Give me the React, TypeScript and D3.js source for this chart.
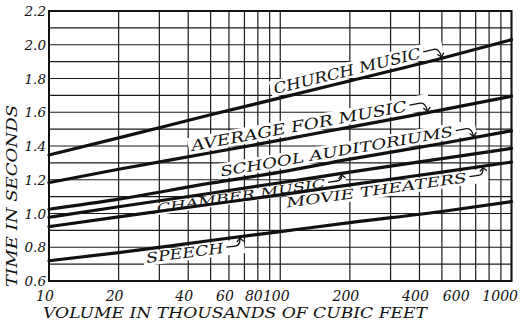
import React from "react";
import * as d3 from "d3";

// ---------- data ----------
const volumes = [10, 20, 50, 100, 200, 500, 1000]; // thousands of cubic feet
const churchMusic = [1.347, 1.448, 1.585, 1.685, 1.786, 1.92, 2.03];
const averageForMusic = [1.183, 1.262, 1.36, 1.435, 1.512, 1.614, 1.695];
const schoolAuditoriums = [1.025, 1.085, 1.18, 1.245, 1.322, 1.415, 1.49];
const chamberMusic = [0.978, 1.04, 1.12, 1.182, 1.245, 1.325, 1.386];
const movieTheaters = [0.922, 0.98, 1.055, 1.11, 1.17, 1.245, 1.305];
const speech = [0.72, 0.768, 0.84, 0.893, 0.946, 1.012, 1.07];

const seriesNames = [
  "CHURCH MUSIC",
  "AVERAGE FOR MUSIC",
  "SCHOOL AUDITORIUMS",
  "CHAMBER MUSIC",
  "MOVIE THEATERS",
  "SPEECH",
];

const xTickValues = [10, 20, 40, 60, 80, 100, 200, 400, 600, 1000];
const xTickLabels = ["10", "20", "40", "60", "80", "100", "200", "400", "600", "1000"];
const yTickValues = [0.6, 0.8, 1.0, 1.2, 1.4, 1.6, 1.8, 2.0, 2.2];
const yTickLabels = ["0.6", "0.8", "1.0", "1.2", "1.4", "1.6", "1.8", "2.0", "2.2"];
const xGridValues = [10, 20, 30, 40, 50, 60, 70, 80, 90, 100, 200, 300, 400, 500, 600, 700, 800, 900, 1000];
const yGridValues = d3.range(6, 23).map((v) => v / 10);

const xTitle = "VOLUME IN THOUSANDS OF CUBIC FEET";
const yTitle = "TIME IN SECONDS";

// ---------- layout (label placement) ----------
const labelStartVolume = [96, 42, 56, 29, 105, 26];
const labelSide = ["above", "above", "above", "below", "below", "below"];
const labelFontSize = [15, 15, 14, 11.5, 13.5, 14];
const labelLength = [151, 219, 236, 170, 182, 78];
const labelGap = [5, 5, 5, 2.5, 3.5, 3.5];

const W = 525;
const H = 322;
const FONT = "'DejaVu Serif', serif";

export default function App() {
  const x = d3.scaleLog().domain([10, 1000]).range([49, 511.5]);
  const y = d3.scaleLinear().domain([0.6, 2.2]).range([281, 11]);

  const allSeries = [churchMusic, averageForMusic, schoolAuditoriums, chamberMusic, movieTheaters, speech];

  const line = d3
    .line<[number, number]>()
    .x((d) => x(d[0]))
    .y((d) => y(d[1]))
    .curve(d3.curveMonotoneX);

  const yAtPx = (vals: number[], px: number) => {
    const pts = volumes.map((v, i) => [x(v), y(vals[i])]);
    for (let i = 0; i < pts.length - 1; i++) {
      if (px >= pts[i][0] && px <= pts[i + 1][0]) {
        const t = (px - pts[i][0]) / (pts[i + 1][0] - pts[i][0]);
        return pts[i][1] + t * (pts[i + 1][1] - pts[i][1]);
      }
    }
    return px < pts[0][0] ? pts[0][1] : pts[pts.length - 1][1];
  };

  const labels = allSeries.map((vals, i) => {
    const x0 = x(labelStartVolume[i]);
    const y0 = yAtPx(vals, x0);
    const len = labelLength[i];
    const x1 = Math.min(x0 + len, 511);
    const y1 = yAtPx(vals, x1);
    const angle = (Math.atan2(y1 - y0, x1 - x0) * 180) / Math.PI;
    const fs = labelFontSize[i];
    const above = labelSide[i] === "above";
    const cap = fs * 0.74;
    const baseline = above ? -labelGap[i] : cap + labelGap[i];
    const mid = baseline - cap * 0.5;
    let arrow: string;
    let head: string;
    if (above) {
      arrow = `M${len + 3},${mid} L${len + 14},${mid} Q${len + 19},${mid} ${len + 19.5},${-2}`;
      head = `M${len + 16},${-5} L${len + 19.5},${-1.5} L${len + 23},${-5}`;
    } else {
      arrow = `M${len + 3},${mid} L${len + 12},${mid} Q${len + 17},${mid} ${len + 17.5},${2}`;
      head = `M${len + 14},${5} L${len + 17.5},${1.5} L${len + 21},${5}`;
    }
    const rect = above
      ? { x: -3, y: baseline - cap - 2.5, w: len + 26, h: cap + 5 }
      : { x: -3, y: 2.5, w: len + 24, h: baseline + 0.5 };
    return { name: seriesNames[i], x0, y0, angle, fs, len, baseline, arrow, head, rect };
  });

  return (
    <svg
      width={W}
      height={H}
      viewBox={`0 0 ${W} ${H}`}
      style={{ position: "absolute", left: 0, top: 0, background: "#fff" }}
      fontFamily={FONT}
    >
      <rect x={0} y={0} width={W} height={H} fill="#fff" />
      <g stroke="#1a1a1a" strokeWidth={1.2}>
        {xGridValues.map((v) => (
          <line key={"vx" + v} x1={x(v)} x2={x(v)} y1={y(0.6)} y2={y(2.2)} />
        ))}
        {yGridValues.map((v) => (
          <line key={"hy" + v} x1={x(10)} x2={x(1000)} y1={y(v)} y2={y(v)} />
        ))}
      </g>
      <rect
        x={x(10)}
        y={y(2.2)}
        width={x(1000) - x(10)}
        height={y(0.6) - y(2.2)}
        fill="none"
        stroke="#111"
        strokeWidth={2}
      />
      {labels.map((l) => (
        <g key={"bg" + l.name} transform={`translate(${l.x0},${l.y0}) rotate(${l.angle})`}>
          <rect x={l.rect.x} y={l.rect.y} width={l.rect.w} height={l.rect.h} fill="#fff" />
        </g>
      ))}
      {allSeries.map((vals, i) => (
        <path
          key={"s" + i}
          d={line(volumes.map((v, j) => [v, vals[j]] as [number, number])) || ""}
          fill="none"
          stroke="#111"
          strokeWidth={3.2}
          strokeLinecap="round"
        />
      ))}
      {labels.map((l) => (
        <g key={"lb" + l.name} transform={`translate(${l.x0},${l.y0}) rotate(${l.angle})`}>
          <text
            x={0}
            y={l.baseline}
            fontSize={l.fs}
            fontStyle="italic"
            fill="#111"
            textLength={l.len}
            lengthAdjust="spacingAndGlyphs"
          >
            {l.name}
          </text>
          <path d={l.arrow} fill="none" stroke="#111" strokeWidth={1.3} />
          <path d={l.head} fill="none" stroke="#111" strokeWidth={1.3} />
        </g>
      ))}
      {yTickValues.map((v, i) => (
        <text
          key={"yt" + v}
          x={46}
          y={y(v) + 5}
          textAnchor="end"
          fontSize={13.5}
          fontStyle="italic"
          fill="#111"
        >
          {yTickLabels[i]}
        </text>
      ))}
      {xTickValues.map((v, i) => {
        const last = i === xTickValues.length - 1;
        return (
          <text
            key={"xt" + v}
            x={last ? 518 : x(v) - 4}
            y={301}
            textAnchor={last ? "end" : "middle"}
            fontSize={14}
            fontStyle="italic"
            fill="#111"
          >
            {xTickLabels[i]}
          </text>
        );
      })}
      <text
        x={43}
        y={318}
        fontSize={14.5}
        fontStyle="italic"
        fill="#111"
        textLength={384}
        lengthAdjust="spacingAndGlyphs"
      >
        {xTitle}
      </text>
      <text
        transform={`translate(17,196) rotate(-90)`}
        textAnchor="middle"
        fontSize={14}
        fontStyle="italic"
        fill="#111"
        textLength={182}
        lengthAdjust="spacingAndGlyphs"
      >
        {yTitle}
      </text>
    </svg>
  );
}
